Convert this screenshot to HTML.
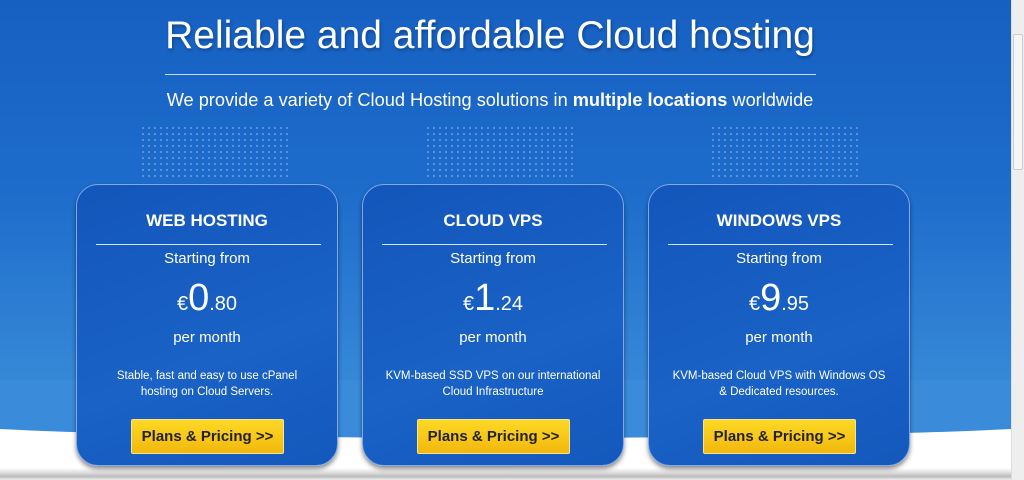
<!DOCTYPE html>
<html><head><style>
*{margin:0;padding:0;box-sizing:border-box}
html,body{width:1024px;height:480px;overflow:hidden}
body{position:relative;font-family:"Liberation Sans",sans-serif;background:#fff}
.bg{position:absolute;left:0;top:0;width:1011px;height:420px;background:linear-gradient(#1660c2 0%,#1d6ccb 45%,#3385d6 85%,#3a8cdb 100%)}
.bulge{position:absolute;left:-100px;top:380px;width:1211px;height:58px;background:#3a8cdb;border-radius:0 0 50% 50%/0 0 20px 20px}
.shade{position:absolute;left:0;top:468px;width:1011px;height:12px;background:linear-gradient(#fff,#ddd 40%,#bbb 70%,#eee)}
.sb{position:absolute;left:1011px;top:0;width:13px;height:480px;background:#eee;border-left:1px solid #ddd}
.thumb{position:absolute;left:1013px;top:34px;width:10px;height:136px;background:#f6f6f6;border:1px solid #ccc;border-radius:2px}
h1{position:absolute;top:14px;left:0;width:980px;text-align:center;color:#fff;font-weight:normal;font-size:39px;text-shadow:1px 2px 3px rgba(0,0,0,.3)}
.hr{position:absolute;top:74px;left:165px;width:651px;height:1px;background:#c8dcf4}
.sub{position:absolute;top:90px;left:0;width:980px;text-align:center;color:#fff;font-size:18.2px}
.card{position:absolute;top:184px;width:262px;height:282px;border-radius:22px;background:linear-gradient(160deg,#1356bb,#1a62c6 60%,#1458bc);border:1px solid #7fa9e6;box-shadow:0 3px 5px rgba(0,0,0,.45);color:#fff;text-align:center}
.t{position:absolute;top:26px;width:100%;font-size:17px;font-weight:bold}
.l{position:absolute;top:59px;left:19px;width:225px;height:1px;background:#d8e4f6}
.s{position:absolute;top:65px;width:100%;font-size:15px}
.p{position:absolute;top:92px;width:100%;font-size:20px}
.p b{font-weight:normal;font-size:38px}
.m{position:absolute;top:144px;width:100%;font-size:15px}
.d{position:absolute;top:183px;width:100%;font-size:11.5px;line-height:16px}
.btn{position:absolute;top:234px;left:54px;width:153px;height:35px;background:linear-gradient(#fdd825,#f2b80e);border:1px solid #f8e58a;border-radius:2px;color:#222;font-size:15px;line-height:33px;font-weight:bold}
.dots{position:absolute;top:125px;width:150px;height:55px;background-image:radial-gradient(circle,#cfe0f6 1px,transparent 1.3px);background-size:6px 6px;opacity:.35}
</style></head><body>
<div class="bg"></div>
<div class="bulge"></div>
<div class="dots" style="left:140px"></div>
<div class="dots" style="left:425px"></div>
<div class="dots" style="left:710px"></div>
<div class="shade"></div>
<div class="sb"></div><div class="thumb"></div>
<h1>Reliable and affordable Cloud hosting</h1>
<div class="hr"></div>
<div class="sub">We provide a variety of Cloud Hosting solutions in <b>multiple locations</b> worldwide</div>
<div class="card" style="left:76px"><div class="t">WEB HOSTING</div><div class="l"></div><div class="s">Starting from</div><div class="p">€<b>0</b>.80</div><div class="m">per month</div><div class="d">Stable, fast and easy to use cPanel<br>hosting on Cloud Servers.</div><div class="btn">Plans &amp; Pricing &gt;&gt;</div></div>
<div class="card" style="left:362px"><div class="t">CLOUD VPS</div><div class="l"></div><div class="s">Starting from</div><div class="p">€<b>1</b>.24</div><div class="m">per month</div><div class="d">KVM-based SSD VPS on our international<br>Cloud Infrastructure</div><div class="btn">Plans &amp; Pricing &gt;&gt;</div></div>
<div class="card" style="left:648px"><div class="t">WINDOWS VPS</div><div class="l"></div><div class="s">Starting from</div><div class="p">€<b>9</b>.95</div><div class="m">per month</div><div class="d">KVM-based Cloud VPS with Windows OS<br>&amp; Dedicated resources.</div><div class="btn">Plans &amp; Pricing &gt;&gt;</div></div>
</body></html>
